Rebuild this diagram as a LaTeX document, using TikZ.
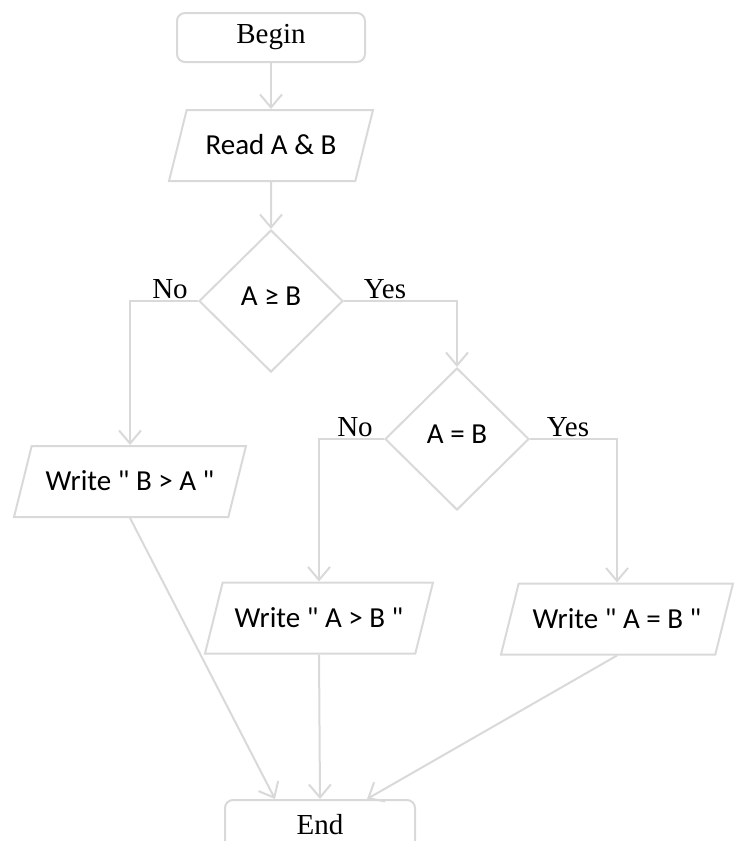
\documentclass[tikz,border=0pt]{standalone}
\usepackage{fontspec}
\setmainfont{Liberation Serif}
\newfontfamily\sansbody{Carlito}
\usetikzlibrary{arrows.meta,positioning,shapes.geometric}
\definecolor{linegray}{RGB}{217,217,217}

\begin{document}
\begin{tikzpicture}[
    x=1pt, y=-1pt,
    every node/.style={line width=2pt, draw=linegray, text=black},
    term/.style={draw, rounded corners=8pt, minimum width=188pt, minimum height=49pt, inner sep=0pt, font=\fontsize{29}{34}\selectfont},
    io/.style={draw, trapezium, trapezium left angle=76, trapezium right angle=104, trapezium stretches body=true, text height=22pt, text depth=4pt, inner ysep=22.5pt, inner xsep=0pt, font=\sansbody\fontsize{29}{34}\selectfont},
    decision/.style={draw, diamond, minimum width=144pt, minimum height=142pt, inner sep=0pt, text height=17pt, text depth=9pt, font=\sansbody\fontsize{29}{34}\selectfont},
    lbl/.style={draw=none, inner sep=1pt, anchor=south, font=\fontsize{29}{34}\selectfont},
    arrow/.style={-{Straight Barb[length=13pt, width=22pt]}, line width=2pt, draw=linegray}
  ]
    \useasboundingbox (0,0) rectangle (748,841);

    \node[term] (begin) at (271,37.5) {Begin};
    \node[io, minimum width=204pt] (read) at (271,145.5) {Read A \& B};
    \node[decision] (ageb) at (271,301) {A ≥ B};
    \node[decision] (aeqb) at (457,439) {A = B};
    \node[io, minimum width=232pt] (writeba) at (130,481.5) {Write " B > A "};
    \node[io, minimum width=228pt] (writeab) at (319,618) {Write " A > B "};
    \node[io, minimum width=232pt] (writeeq) at (617,619) {Write " A = B "};
    \node[term, minimum width=190pt] (end) at (320,824.5) {End};

    % branch labels
    \node[lbl] at ([xshift=-28pt]ageb.west) {No};
    \node[lbl] at ([xshift=41pt]ageb.east) {Yes};
    \node[lbl] at ([xshift=-29pt]aeqb.west) {No};
    \node[lbl] at ([xshift=38pt]aeqb.east) {Yes};

    \draw[arrow] (begin) -- (read);
    \draw[arrow] (read) -- (ageb);
    \draw[arrow] (ageb.west) -| (writeba.north);
    \draw[arrow] (ageb.east) -| (aeqb.north);
    \draw[arrow] (aeqb.west) -| (writeab.north);
    \draw[arrow] (aeqb.east) -| (writeeq.north);
    \draw[arrow] (writeba.south) -- ([xshift=-45pt]end.north);
    \draw[arrow] (writeab.south) -- (end.north);
    \draw[arrow] (writeeq.south) -- ([xshift=47pt]end.north);
\end{tikzpicture}
\end{document}
